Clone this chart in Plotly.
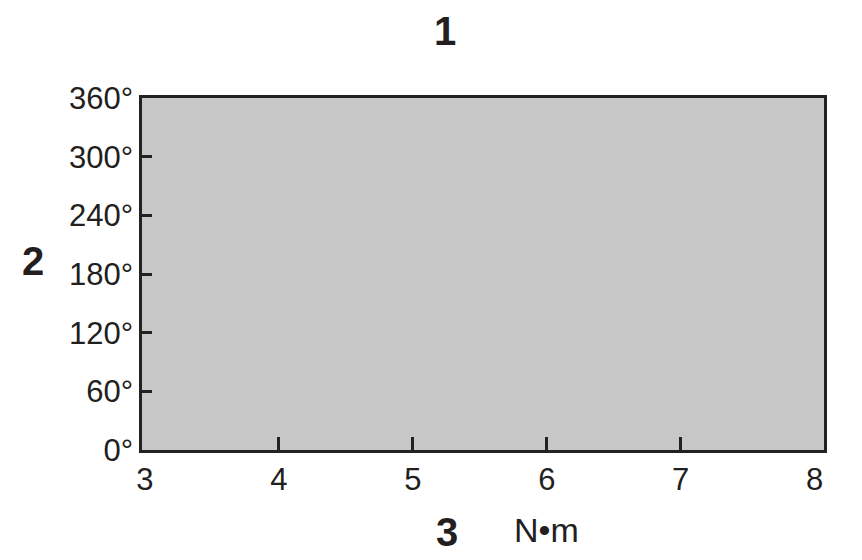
import plotly.graph_objects as go

x_label_vals = [3, 4, 5, 6, 7, 8]
x_tick_labels = ["3", "4", "5", "6", "7", "8"]
x_mark_vals = [4, 5, 6, 7]
y_ticks = [0, 60, 120, 180, 240, 300, 360]
y_tick_labels = ["0°", "60°", "120°", "180°", "240°", "300°", "360°"]
x_range = [2.978, 8.07]
y_range = [0, 360]

# page body has an 8px default margin; size the figure so it fits the window
OFF = 8
W, H = 862 - OFF, 560 - OFF
ml, mr, mt, mb = 142 - OFF, 38, 98 - OFF, 110
pw, ph = W - ml - mr, H - mt - mb

def px(xp):
    return (xp - OFF - ml) / pw

def py(yp):
    return (H - mb - (yp - OFF)) / ph

TXT = "#231f20"
LINE = "#222222"
FONT = "Liberation Sans, Arial, sans-serif"

fig = go.Figure()
fig.add_trace(go.Scatter(x=x_range, y=[None, None], mode="lines", showlegend=False, hoverinfo="skip"))
fig.add_trace(go.Scatter(x=x_range, y=[None, None], mode="lines", showlegend=False, hoverinfo="skip",
                         xaxis="x2", yaxis="y"))

fig.update_layout(
    width=W, height=H,
    margin=dict(l=ml, r=mr, t=mt, b=mb),
    paper_bgcolor="white",
    plot_bgcolor="#c7c7c7",
    showlegend=False,
    font=dict(family=FONT, color=TXT),
    xaxis=dict(
        range=x_range, tickvals=x_label_vals, ticktext=x_tick_labels,
        ticks="", showline=True, linecolor=LINE, linewidth=2.5, mirror=True,
        showgrid=False, zeroline=False,
        tickfont=dict(size=31, family=FONT, color=TXT),
    ),
    xaxis2=dict(
        range=x_range, overlaying="x", side="bottom", tickvals=x_mark_vals,
        ticks="inside", ticklen=13, tickwidth=2.5, tickcolor=LINE,
        showticklabels=False, showline=False, showgrid=False, zeroline=False,
    ),
    yaxis=dict(
        range=y_range, tickvals=y_ticks, ticktext=y_tick_labels,
        ticks="inside", ticklen=10, tickwidth=2.5, tickcolor=LINE,
        showline=True, linecolor=LINE, linewidth=2.5, mirror=True,
        showgrid=False, zeroline=False,
        tickfont=dict(size=31, family=FONT, color=TXT),
    ),
)

def ann(text, x, y, size, bold):
    fig.add_annotation(
        text=f"<b>{text}</b>" if bold else text,
        xref="paper", yref="paper", x=px(x), y=py(y),
        xanchor="center", yanchor="middle", showarrow=False,
        font=dict(size=size, family=FONT, color=TXT),
    )

ann("1", 445, 31, 40, True)
ann("2", 33, 261, 40, True)
ann("3", 447, 532, 40, True)
ann("N•m", 546, 530, 34, False)

fig.write_html("out.html")
